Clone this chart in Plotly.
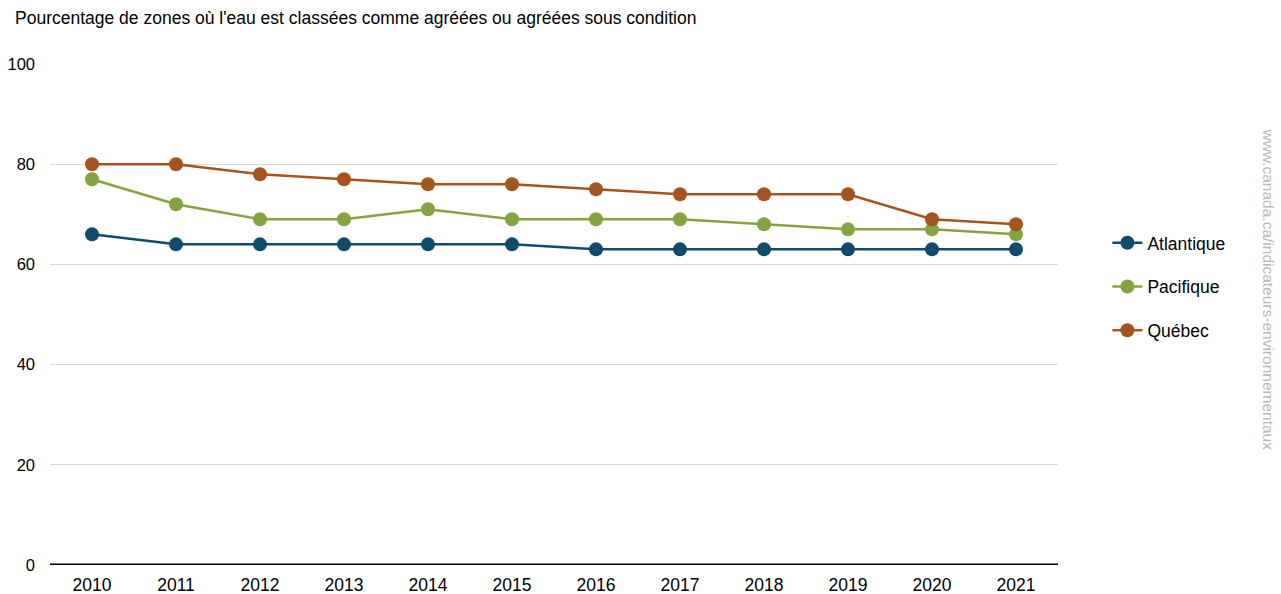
import plotly.graph_objects as go

years = ["2010", "2011", "2012", "2013", "2014", "2015", "2016", "2017", "2018", "2019", "2020", "2021"]
atlantique = [66, 64, 64, 64, 64, 64, 63, 63, 63, 63, 63, 63]
pacifique = [77, 72, 69, 69, 71, 69, 69, 69, 68, 67, 67, 66]
quebec = [80, 80, 78, 77, 76, 76, 75, 74, 74, 74, 69, 68]
y_ticks = [0, 20, 40, 60, 80, 100]

series = [
    ("Atlantique", atlantique, "#0f4c6b"),
    ("Pacifique", pacifique, "#86a341"),
    ("Québec", quebec, "#a5541f"),
]

fig = go.Figure()
for name, vals, color in series:
    fig.add_trace(go.Scatter(
        x=years, y=vals, name=name, mode="lines+markers",
        legendgroup=name,
        line=dict(color=color, width=2.5),
        marker=dict(color=color, size=14),
    ))

font_family = "Liberation Sans, Arial, sans-serif"
fig.update_layout(
    width=1281, height=594,
    margin=dict(l=50, r=223, t=64, b=29),
    paper_bgcolor="white", plot_bgcolor="white",
    font=dict(family=font_family, size=16, color="#000000"),
    showlegend=True,
    legend=dict(
        x=1.049, xanchor="left", y=0.555, yanchor="middle",
        font=dict(size=17.5), tracegroupgap=18, itemwidth=30,
        bgcolor="rgba(0,0,0,0)",
    ),
    xaxis=dict(
        type="category", range=[-0.5, 11.5], showgrid=False,
        tickfont=dict(size=17.5), ticks="", showline=False,
        zeroline=False, automargin=False, ticklabelstandoff=7,
    ),
    yaxis=dict(
        range=[0, 100], tickvals=y_ticks, showgrid=True, gridcolor="#d9d9d9",
        gridwidth=1, zeroline=False, showline=False, ticks="",
        tickfont=dict(size=16.5), ticklabelstandoff=14, automargin=False,
    ),
    shapes=[dict(type="line", xref="paper", yref="y", x0=0, x1=1, y0=0, y1=0,
                 line=dict(color="black", width=3))],
    annotations=[
        dict(text="Pourcentage de zones où l'eau est classées comme agréées ou agréées sous condition",
             xref="paper", yref="paper", x=-37/1008, y=1 + 46/501, xanchor="left", yanchor="middle",
             showarrow=False, font=dict(size=17.5, color="#000000")),
        dict(text="www.canada.ca/indicateurs-environnementaux",
             xref="paper", yref="paper", x=1 + 211/1008, y=0.55, xanchor="center", yanchor="middle",
             textangle=90, showarrow=False, font=dict(size=15.5, color="#b8b8b8")),
    ],
)

fig.write_html("out.html", config={"displayModeBar": False},
               post_script="document.body.style.margin='0';document.body.style.padding='0';document.body.style.overflow='hidden';")
